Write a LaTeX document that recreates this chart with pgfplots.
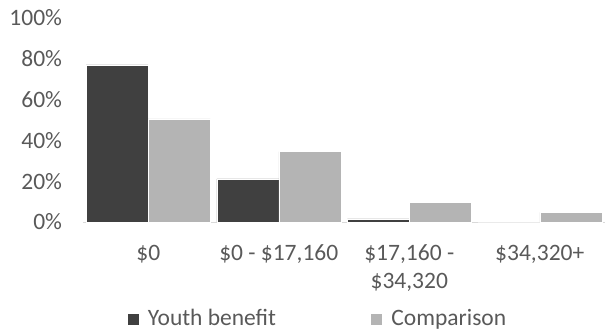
\documentclass[border=0pt]{standalone}
\usepackage{pgfplots}
\pgfplotsset{compat=1.18}
\usepackage{fontspec}
\setmainfont{Carlito}
\definecolor{darkbar}{HTML}{404040}
\definecolor{lightbar}{HTML}{B4B4B4}
\definecolor{txt}{HTML}{595959}
\definecolor{axisline}{HTML}{D9D9D9}
\begin{document}
\fontsize{23.5bp}{28bp}\selectfont
\begin{tikzpicture}
\path[use as bounding box] (-83bp,-110bp) rectangle (523bp,222bp);
\begin{axis}[
  at={(0,0)}, anchor=south west,
  scale only axis,
  width=522bp, height=204bp,
  ymin=0, ymax=100,
  xmin=-0.5, xmax=3.5,
  ybar=0pt, bar width=62bp,
  xtick=data,
  xticklabels={{\$0}, {\$0 - \$17,160}, {\$17,160 -\\\$34,320}, {\$34,320+}},
  ytick={0,20,40,60,80,100},
  yticklabels={0\%,20\%,40\%,60\%,80\%,100\%},
  axis x line*=bottom,
  axis y line*=left,
  y axis line style={draw=none},
  x axis line style={draw=axisline, line width=1bp, -},
  major tick length=0pt,
  xtick style={draw=none},
  ytick style={draw=none},
  tick label style={text=txt, font=\fontsize{23.5bp}{28bp}\selectfont},
  xticklabel style={align=center, yshift=-15bp},
  yticklabel style={xshift=-13bp},
  clip=false,
  legend columns=2,
  legend style={draw=none, fill=none, at={(axis description cs:0.083,-0.475)}, anchor=west,
    font=\fontsize{23.5bp}{28bp}\selectfont, text=txt, inner sep=0pt,
    /tikz/every even column/.append style={column sep=92bp}},
  legend image code/.code={\fill[#1] (0bp,-6bp) rectangle (12bp,6bp);},
]
\addplot[fill=darkbar, draw=white, line width=0.4bp] coordinates {(0,77) (1,21.2) (2,1.5) (3,0)};
\addplot[fill=lightbar, draw=white, line width=0.4bp] coordinates {(0,50.5) (1,34.5) (2,9.8) (3,4.7)};
\legend{\hspace{7bp}Youth benefit, \hspace{7bp}Comparison}
\end{axis}
\end{tikzpicture}
\end{document}
